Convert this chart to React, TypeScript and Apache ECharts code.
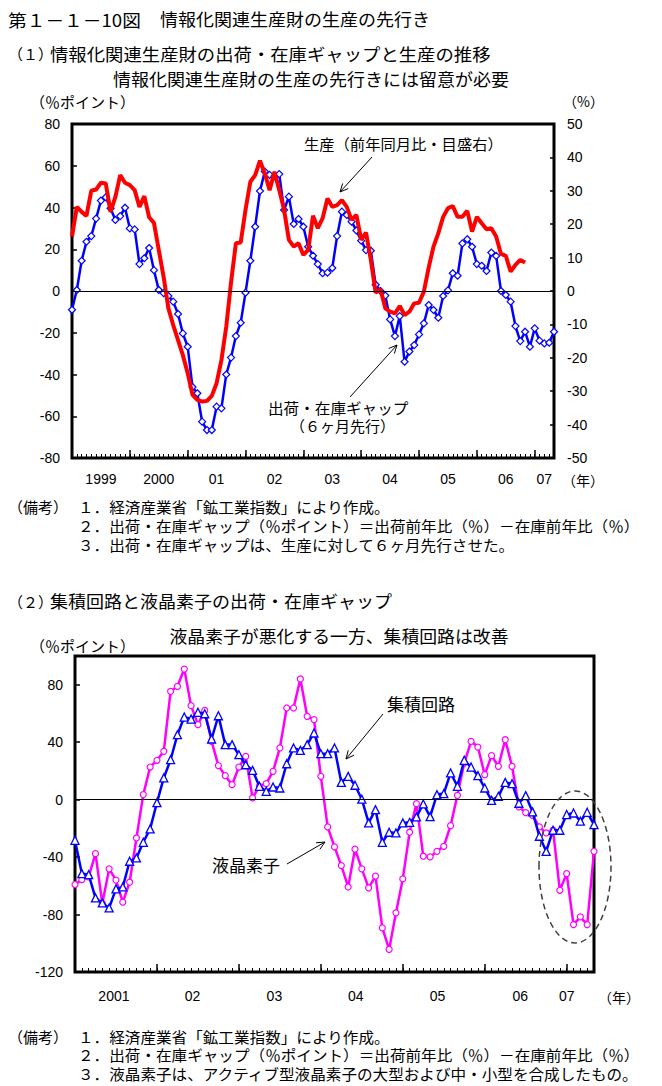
import React, { useEffect, useRef } from 'react';
import * as echarts from 'echarts';

// ---------- Chart (1) data ----------
const years1 = ['1999', '2000', '01', '02', '03', '04', '05', '06', '07'];
const yearPos1 = [6, 18, 30, 42, 54, 66, 78, 90, 98];
// 出荷・在庫ギャップ（6ヶ月先行, %ポイント）, monthly from 1999/1
const gapInfo = [
  -9, 0.5, 14.5, 23.6, 26.3, 34.7, 43.3, 44.9, 39.6, 34, 35.9, 39.9,
  30, 29.5, 12.9, 15.7, 20.6, 10, 0.5, -1, -2.4, -5.1, -11, -20.3,
  -26.7, -46, -49, -62.6, -66.6, -66.6, -55.4, -56.2, -40, -31.9, -21.6, -15.2,
  -0.8, 14.5, 30.8, 47.9, 57.2, 55.6, 55, 56, 38.8, 45.2, 32.1, 34.5,
  30.8, 21.2, 16.9, 12.9, 8.5, 8.8, 11, 26.3, 38, 36.4, 33.2, 29,
  24.1, 19.6, 19.3, 3, 0, -2.2, -13.6, -21.6, -12, -33.9, -29, -25.9,
  -20.8, -15.5, -6.7, -9.1, -12.8, -2.4, 0.3, 8.5, 7.3, 22.8, 24.8, 21.2,
  12.9, 12.1, 9.6, 18.4, 16.8, 0, -1.9, -5.1, -16.8, -24, -19.5, -26.7,
  -17.9, -23.8, -25.1, -24.8, -19.5,
];
// 生産（前年同月比, %, 目盛右）
const production = [
  16.3, 25.2, 23.7, 22.5, 30, 30.4, 32.4, 32.2, 23.7, 28.2, 34.7, 32.4,
  31.7, 30.2, 25.2, 28.4, 22.1, 20.4, 12.3, 4.3, -5.2, -10.2, -14.7, -19.2,
  -24.6, -31.1, -32.6, -33.1, -32.9, -31.4, -27.6, -20.7, -10.7, 2.6, 14.3, 14.5,
  24.3, 32.7, 34.7, 39, 35.2, 30.2, 35.7, 30.2, 24.3, 15.3, 13.3, 14.3,
  10.8, 12.3, 22.5, 18.8, 21.8, 27.7, 25.2, 25.7, 27.2, 25.2, 21.3, 22.8,
  15.3, 17.5, 9.3, -0.5, 0.5, -5.2, -6.2, -6.7, -4.5, -7.2, -6.2, -3.7,
  -3.5, -0.2, 7, 13.3, 17.3, 22.2, 24.8, 25.4, 22.2, 22.2, 24, 17.8,
  22.2, 20.3, 18.5, 18.8, 16.3, 11.1, 10.5, 5.8, 7.8, 9.3, 8.5,
];

// ---------- Chart (2) data ----------
const years2 = ['2001', '02', '03', '04', '05', '06', '07'];
const yearPos2 = [5.7, 17.2, 29.2, 41.1, 53.1, 65.2, 72];
// 集積回路, monthly from 2001/1
const icGap = [
  -28.3, -51.5, -52.2, -68.4, -71.9, -75.4, -62.1, -60.8, -42.9, -40.6, -29.7, -20.4,
  -2.1, 15.1, 27.8, 45.2, 57.5, 56.1, 60.8, 59.8, 42.2, 58.4, 38.3, 38.3,
  31.3, 24.3, 20.4, 9.3, 5.8, 8.8, 8.1, 25, 36, 34.3, 38.3, 46.4,
  32, 32, 36, 12, 16.2, 10, 0.3, -16.2, -7, -29.7, -22.7, -23.2,
  -16.2, -15.8, -12, -3, -11.8, 3.5, 4.2, 18.6, 9.3, 27.4, 22.7, 16.7,
  8.1, -0.5, 2.3, 12, 11.1, -2.5, 2.8, -8.5, -25.5, -36, -21.3, -21.3,
  -10.4, -9.3, -15, -8.8, -17.4,
];
// 液晶素子
const lcdGap = [
  -59.1, -55.7, -53.8, -37.6, -72.3, -48.2, -56, -71.4, -57.5, -26.7, 3.5, 22.7,
  27.4, 33.6, 75.4, 78.8, 90.9, 65.4, 52.2, 62.1, 40.6, 23.7, 16.7, 10.4,
  22.7, 30.1, 1.2, 9.3, 11.1, 19.7, 36, 63.8, 63.8, 84, 58, 55.7,
  16.2, -19, -32.9, -45.9, -60.8, -34.5, -48.2, -61.4, -53.3, -89.3, -104.3, -78.8,
  -55.2, -22.7, -2.8, -39.4, -39.9, -36, -32.5, -18.1, 3, 25.5, 40.6, 36.6,
  17.4, 30.6, 23.2, 41.7, 23.2, -5, -9, -11, -19, -23.2, -21.3, -63.1,
  -51.5, -87, -81.6, -87, -36,
];

const FONT = '"Noto Sans CJK JP", "Noto Sans", sans-serif';
const NUMFONT = '"Liberation Sans", "DejaVu Sans", sans-serif';

function txt(text: string, x: number, y: number, size: number, align: string = 'left', scaleX: number = 1) {
  return {
    type: 'text',
    x,
    y,
    scaleX,
    z: 50,
    style: {
      text,
      font: `${size}px ${FONT}`,
      lineHeight: size,
      fill: '#000',
      align,
      verticalAlign: 'middle',
    },
  };
}

function arrow(x1: number, y1: number, x2: number, y2: number) {
  const dx = x2 - x1;
  const dy = y2 - y1;
  const len = Math.sqrt(dx * dx + dy * dy);
  const bx = -dx / len;
  const by = -dy / len;
  const h = 9;
  const a = (25 * Math.PI) / 180;
  const w1x = x2 + h * (bx * Math.cos(a) - by * Math.sin(a));
  const w1y = y2 + h * (bx * Math.sin(a) + by * Math.cos(a));
  const w2x = x2 + h * (bx * Math.cos(-a) - by * Math.sin(-a));
  const w2y = y2 + h * (bx * Math.sin(-a) + by * Math.cos(-a));
  return [
    { type: 'line', z: 50, shape: { x1, y1, x2, y2 }, style: { stroke: '#000', lineWidth: 1 } },
    {
      type: 'polyline',
      z: 50,
      shape: { points: [[w1x, w1y], [x2, y2], [w2x, w2y]] },
      style: { stroke: '#000', lineWidth: 1, fill: 'none' },
    },
  ];
}

export default function App() {
  const ref = useRef<HTMLDivElement>(null);
  useEffect(() => {
    if (!ref.current) return;
    const chart = echarts.init(ref.current, undefined, { renderer: 'svg' });
    const axisLabelStyle = { color: '#000', fontSize: 14, fontFamily: NUMFONT };
    const tickStyle = { color: '#000', width: 1.5 };

    const majorX = (gridIndex: number, max: number, pos: number[], labels: string[], margin: number) => ({
      gridIndex,
      type: 'value',
      min: 0,
      max,
      interval: 12,
      position: 'bottom',
      axisLine: { show: false, onZero: false },
      axisTick: { show: true, inside: true, length: 8, lineStyle: tickStyle },
      splitLine: { show: false },
      axisLabel: {
        ...axisLabelStyle,
        margin,
        customValues: pos,
        formatter: (v: number) => {
          const k = pos.indexOf(v);
          return k >= 0 ? labels[k] : '';
        },
      },
    });
    const minorX = (gridIndex: number, max: number) => ({
      gridIndex,
      type: 'value',
      min: 0,
      max,
      interval: 1,
      position: 'bottom',
      axisLine: { show: false, onZero: false },
      axisTick: { show: true, inside: true, length: 4, lineStyle: { color: '#000', width: 1 } },
      splitLine: { show: false },
      axisLabel: { show: false },
    });

    const zeroLine = {
      silent: true,
      symbol: ['none', 'none'],
      label: { show: false },
      lineStyle: { color: '#000', width: 1, type: 'solid' },
      data: [{ yAxis: 0 }],
    };

    const yBase = {
      type: 'value',
      axisLine: { show: false, onZero: false },
      axisTick: { show: true, inside: true, length: 5, lineStyle: tickStyle },
      splitLine: { show: false },
    };

    const option: any = {
      animation: false,
      backgroundColor: '#fff',
      grid: [
        { left: 72, top: 124, width: 482, height: 334, show: true, borderColor: '#000', borderWidth: 3, backgroundColor: 'transparent' },
        { left: 75, top: 656, width: 519, height: 316, show: true, borderColor: '#000', borderWidth: 3, backgroundColor: 'transparent' },
      ],
      xAxis: [
        majorX(0, 100, yearPos1, years1, 14),
        minorX(0, 100),
        majorX(1, 76, yearPos2, years2, 17),
        minorX(1, 76),
      ],
      yAxis: [
        {
          ...yBase, gridIndex: 0, min: -80, max: 80, interval: 20, position: 'left',
          axisLabel: { ...axisLabelStyle, margin: 12 },
        },
        {
          ...yBase, gridIndex: 0, min: -50, max: 50, interval: 10, position: 'right',
          axisTick: { show: true, inside: true, length: 4, lineStyle: tickStyle },
          axisLabel: { ...axisLabelStyle, margin: 13 },
        },
        {
          ...yBase, gridIndex: 1, min: -120, max: 100, interval: 40, position: 'left',
          axisLabel: { ...axisLabelStyle, margin: 12, formatter: (v: number) => (v > 80 ? '' : String(v)) },
        },
      ],
      series: [
        {
          name: '出荷・在庫ギャップ',
          type: 'line',
          xAxisIndex: 0,
          yAxisIndex: 0,
          data: gapInfo.map((v, i) => [i, v]),
          symbol: 'diamond',
          symbolSize: 7,
          itemStyle: { color: '#fff', borderColor: '#0000ff', borderWidth: 1.2 },
          lineStyle: { color: '#0000ff', width: 2.5 },
          markLine: zeroLine,
          z: 3,
        },
        {
          name: '生産',
          type: 'line',
          xAxisIndex: 0,
          yAxisIndex: 1,
          data: production.map((v, i) => [i, v]),
          symbol: 'none',
          lineStyle: { color: '#ff0000', width: 4 },
          z: 4,
        },
        {
          name: '液晶素子',
          type: 'line',
          xAxisIndex: 2,
          yAxisIndex: 2,
          data: lcdGap.map((v, i) => [i, v]),
          symbol: 'circle',
          symbolSize: 6,
          itemStyle: { color: '#fff', borderColor: '#ff00ff', borderWidth: 1.2 },
          lineStyle: { color: '#ff00ff', width: 2.5 },
          markLine: zeroLine,
          z: 3,
        },
        {
          name: '集積回路',
          type: 'line',
          xAxisIndex: 2,
          yAxisIndex: 2,
          data: icGap.map((v, i) => [i, v]),
          symbol: 'triangle',
          symbolSize: 8,
          itemStyle: { color: '#fff', borderColor: '#0000ff', borderWidth: 1.3 },
          lineStyle: { color: '#0000ff', width: 2.5 },
          z: 4,
        },
      ],
      graphic: [
        txt('第１－１－10図', 8, 19, 17, 'left', 1.1),
        txt('情報化関連生産財の生産の先行き', 160, 19, 17, 'left', 1.06),
        txt('（１）', 8, 53, 15),
        txt('情報化関連生産財の出荷・在庫ギャップと生産の推移', 50, 53, 17, 'left', 1.08),
        txt('情報化関連生産財の生産の先行きには留意が必要', 311, 79, 17, 'center', 1.06),
        txt('（％ポイント）', 30, 101, 15),
        txt('（%）', 563, 101, 14),
        txt('（年）', 562, 480, 14),
        txt('生産（前年同月比・目盛右）', 304, 143, 15, 'left', 1.02),
        ...arrow(372, 157, 340, 192),
        txt('出荷・在庫ギャップ', 268, 407, 15, 'left', 1.04),
        txt('（６ヶ月先行）', 290, 425, 15),
        ...arrow(350, 397, 397, 345),
        txt('（備考）', 8, 506, 15),
        txt('１．経済産業省「鉱工業指数」により作成。', 78, 506, 15, 'left', 1.04),
        txt('２．出荷・在庫ギャップ（％ポイント）＝出荷前年比（％）－在庫前年比（％）', 78, 525, 15, 'left', 1.04),
        txt('３．出荷・在庫ギャップは、生産に対して６ヶ月先行させた。', 78, 544, 15, 'left', 1.04),
        txt('（２）', 8, 601, 15),
        txt('集積回路と液晶素子の出荷・在庫ギャップ', 50, 601, 17, 'left', 1.06),
        txt('液晶素子が悪化する一方、集積回路は改善', 339, 636, 17, 'center', 1.05),
        txt('（％ポイント）', 30, 645, 15),
        txt('（年）', 598, 997, 14),
        txt('集積回路', 387, 703, 17),
        ...arrow(383, 714, 346, 759),
        txt('液晶素子', 212, 864, 17),
        ...arrow(287, 864, 325, 842),
        {
          type: 'ellipse',
          z: 60,
          shape: { cx: 575, cy: 867, rx: 36, ry: 76 },
          style: { fill: 'none', stroke: '#404040', lineWidth: 1.5, lineDash: [6, 4] },
        },
        txt('（備考）', 8, 1036, 15),
        txt('１．経済産業省「鉱工業指数」により作成。', 78, 1036, 15, 'left', 1.04),
        txt('２．出荷・在庫ギャップ（％ポイント）＝出荷前年比（％）－在庫前年比（％）', 78, 1054.5, 15, 'left', 1.04),
        txt('３．液晶素子は、アクティブ型液晶素子の大型および中・小型を合成したもの。', 78, 1073, 15, 'left', 1.04),
      ],
    };
    chart.setOption(option);
    return () => chart.dispose();
  }, []);
  return (
    <div
      ref={ref}
      style={{ position: 'absolute', left: 0, top: 0, width: 662, height: 1086, background: '#fff' }}
    />
  );
}
